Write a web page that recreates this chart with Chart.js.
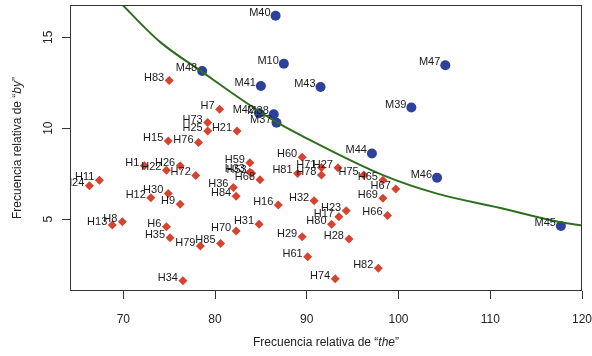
<!DOCTYPE html>
<html><head><meta charset="utf-8">
<script src="https://cdn.jsdelivr.net/npm/chart.js@4"></script>
<style>html,body{margin:0;padding:0;background:#fff}canvas{display:block}</style>
</head><body>
<canvas id="c" width="592" height="356"></canvas>
<script>
const hLabels = ['H83','H7','H73','H25','H21','H15','H76','H1','H22','H26','H72','H11','H24','H12','H30','H9','H13','H8','H6','H35','H79','H85','H70','H34','H59','H33','H53','H68','H36','H84','H16','H31','H60','H81','H71','H78','H27','H75','H65','H67','H69','H32','H23','H17','H80','H28','H66','H29','H61','H74','H82'];
const hX = [75.0,80.5,79.2,79.2,82.4,74.9,78.2,72.3,74.7,76.2,77.9,67.4,66.3,73.0,74.9,76.2,68.8,69.9,74.7,75.1,78.4,80.6,82.3,76.5,83.8,83.8,84.0,84.9,82.0,82.3,86.9,84.8,89.5,89.0,91.6,91.6,93.4,96.2,98.3,99.7,98.3,90.8,94.3,93.5,92.7,94.6,98.8,89.5,90.1,93.1,97.8];
const hY = [12.62,11.04,10.31,9.84,9.85,9.30,9.21,7.93,7.68,7.93,7.40,7.14,6.83,6.17,6.41,5.82,4.67,4.85,4.58,3.97,3.52,3.66,4.34,1.61,8.10,7.58,7.52,7.16,6.74,6.26,5.77,4.71,8.40,7.51,7.83,7.42,7.82,7.42,7.14,6.65,6.15,6.01,5.46,5.13,4.71,3.90,5.20,4.03,2.93,1.72,2.29];

const mLabels = ['M40','M10','M41','M43','M48','M47','M39','M46','M44','M45','M42','M38','M37'];
const mX = [86.6,87.5,85.0,91.5,78.6,105.1,101.4,104.2,97.1,117.7,84.8,86.4,86.7];
const mY = [16.19,13.55,12.32,12.27,13.15,13.46,11.14,7.27,8.61,4.62,10.82,10.77,10.30];

const curveX = [69.3,74.0,78.6,83.0,86.7,89.2,98.3,104.2,111.0,117.7,120.0];
const curveY = [17.1,14.75,13.10,11.54,10.33,9.65,7.42,6.40,5.62,4.82,4.65];

const xTicks = [70,80,90,100,110,120];
const yTicks = [5,10,15];
const xTitleParts = ['Frecuencia relativa de \u201C','the','\u201D'];
const yTitleParts = ['Frecuencia relativa de \u201C','by','\u201D'];

const FONT = '"Liberation Sans", Arial, Helvetica, sans-serif';
const toPts = (xs, ys) => xs.map((v, i) => ({x: v, y: ys[i]}));

function drawMixed(ctx, parts, cx, cy) {
  const fonts = ['12px ' + FONT, 'italic 12px ' + FONT, '12px ' + FONT];
  let widths = parts.map((p, i) => { ctx.font = fonts[i]; return ctx.measureText(p).width; });
  const total = widths.reduce((a, b) => a + b, 0);
  let x = cx - total / 2;
  ctx.textAlign = 'left'; ctx.textBaseline = 'middle';
  parts.forEach((p, i) => { ctx.font = fonts[i]; ctx.fillText(p, x, cy); x += widths[i]; });
}

const decor = {
  id: 'decor',
  afterDatasetsDraw(chart) {
    const {ctx, chartArea: a} = chart;
    ctx.save();
    ctx.beginPath(); ctx.rect(a.left, a.top, a.right - a.left, a.bottom - a.top); ctx.clip();
    ctx.font = '11px ' + FONT;
    ctx.fillStyle = '#1a1a1a'; ctx.textAlign = 'right'; ctx.textBaseline = 'middle';
    chart.data.datasets.forEach((ds, i) => {
      if (!ds.names) return;
      const meta = chart.getDatasetMeta(i);
      meta.data.forEach((el, j) => ctx.fillText(ds.names[j], el.x - 5, el.y - 3));
    });
    ctx.restore();
  },
  afterDraw(chart) {
    const {ctx, chartArea: a, scales: {y}} = chart;
    ctx.save();
    ctx.strokeStyle = '#333'; ctx.lineWidth = 1;
    ctx.strokeRect(Math.round(a.left) + 0.5, Math.round(a.top) + 0.5, Math.round(a.right - a.left) - 1, Math.round(a.bottom - a.top) - 1);
    ctx.fillStyle = '#222';
    ctx.font = '12px ' + FONT; ctx.textAlign = 'center'; ctx.textBaseline = 'middle';
    yTicks.forEach(v => {
      ctx.save();
      ctx.translate(49, y.getPixelForValue(v));
      ctx.rotate(-Math.PI / 2);
      ctx.fillText(String(v), 0, 0);
      ctx.restore();
    });
    drawMixed(ctx, xTitleParts, (a.left + a.right) / 2, 343);
    ctx.save();
    ctx.translate(18, (a.top + a.bottom) / 2);
    ctx.rotate(-Math.PI / 2);
    drawMixed(ctx, yTitleParts, 0, 0);
    ctx.restore();
    ctx.restore();
  }
};

new Chart(document.getElementById('c'), {
  type: 'scatter',
  data: {
    datasets: [
      { label: 'M', names: mLabels, data: toPts(mX, mY), order: 2,
        pointStyle: 'circle', pointRadius: 5, pointBackgroundColor: '#2c409c', pointBorderColor: '#2c409c', pointBorderWidth: 0 },
      { label: 'H', names: hLabels, data: toPts(hX, hY), order: 1,
        pointStyle: 'rectRot', pointRadius: 4.5, pointBackgroundColor: '#d8432f', pointBorderColor: '#d8432f', pointBorderWidth: 0 },
      { type: 'line', label: 'curve', data: toPts(curveX, curveY), order: 0,
        borderColor: '#2d6e1f', borderWidth: 2, pointRadius: 0, fill: false, showLine: true,
        cubicInterpolationMode: 'monotone', clip: 0 }
    ]
  },
  options: {
    responsive: false, animation: false, devicePixelRatio: 1,
    layout: { padding: { top: 5, right: 10, left: 0, bottom: 0 } },
    plugins: { legend: { display: false }, tooltip: { enabled: false } },
    scales: {
      x: {
        type: 'linear', min: 64.19, max: 120,
        afterBuildTicks: s => { s.ticks = xTicks.map(v => ({value: v})); },
        afterFit: s => { s.height = 65; s.paddingLeft = 0; s.paddingRight = 0; },
        border: { display: false },
        grid: { drawOnChartArea: false, drawTicks: true, tickLength: 8, color: '#333', lineWidth: 1 },
        ticks: { font: { family: FONT, size: 12 }, color: '#222', padding: 13, maxRotation: 0, autoSkip: false }
      },
      y: {
        type: 'linear', min: 1.04, max: 16.78,
        afterBuildTicks: s => { s.ticks = yTicks.map(v => ({value: v})); },
        afterFit: s => { s.width = 70; s.paddingTop = 0; s.paddingBottom = 0; },
        border: { display: false },
        grid: { drawOnChartArea: false, drawTicks: true, tickLength: 8, color: '#333', lineWidth: 1 },
        ticks: { display: false }
      }
    }
  },
  plugins: [decor]
});
</script>
</body></html>
